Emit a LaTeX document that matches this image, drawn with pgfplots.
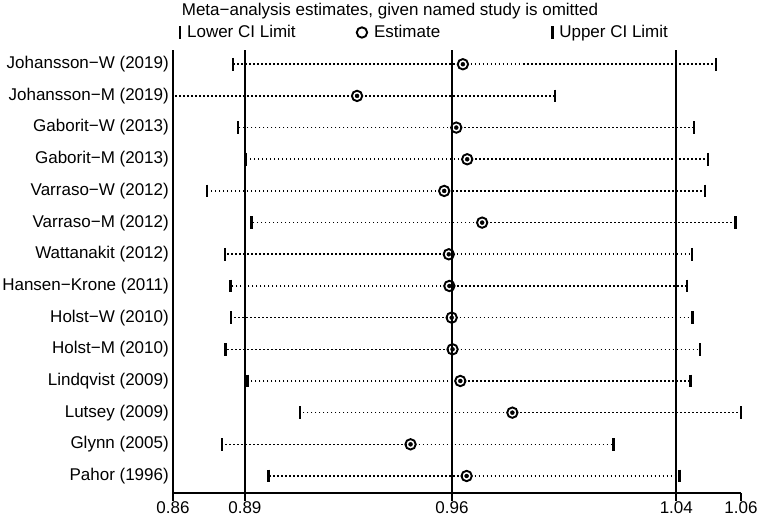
\documentclass[border=0pt]{standalone}
\usepackage{fontspec}
\setmainfont{Liberation Sans}
\usepackage{pgfplots}
\usepackage{pgfplotstable}
\pgfplotsset{compat=1.18}
% row position (14 = top), lower CI, estimate, upper CI
\pgfplotstableread{
row lo est hi
14 0.8838 0.9638 1.0518
13 0.8630 0.9270 0.9958
12 0.8856 0.9615 1.0441
11 0.8882 0.9653 1.0490
10 0.8748 0.9573 1.0480
9  0.8902 0.9705 1.0585
8  0.8811 0.9589 1.0435
7  0.8829 0.9591 1.0417
6  0.8831 0.9599 1.0437
5  0.8813 0.9602 1.0463
4  0.8889 0.9629 1.0429
3  0.9071 0.9810 1.0605
2  0.8801 0.9456 1.0161
1  0.8962 0.9651 1.0391
}\sens
\newcommand{\bigf}{\fontsize{17}{20}\selectfont}
\begin{document}
\begin{tikzpicture}
\begin{axis}[
  scale only axis, width=568pt, height=443pt,
  xmin=0.863, xmax=1.0605, ymin=0.463, ymax=14.45,
  axis lines=left,
  axis line style={-, line width=2pt, black},
  xtick={0.863,0.888,0.96,1.038,1.0605},
  xticklabels={0.86,0.89,0.96,1.04,1.06},
  ytick={1,...,14},
  yticklabels={Pahor (1996),Glynn (2005),Lutsey (2009),Lindqvist (2009),Holst−M (2010),Holst−W (2010),Hansen−Krone (2011),Wattanakit (2012),Varraso−M (2012),Varraso−W (2012),Gaborit−M (2013),Gaborit−W (2013),Johansson−M (2019),Johansson−W (2019)},
  tick align=outside, major tick length=8pt,
  x tick style={line width=2pt, black},
  y tick style={draw=none},
  tick label style={font=\bigf},
  xticklabel style={inner sep=0pt},
  yticklabel style={inner sep=0pt, anchor=east, xshift=4pt},
  title={Meta−analysis estimates, given named study is omitted},
  title style={at={(0.382,1.075)}, anchor=center, font=\bigf, inner sep=0pt},
  legend columns=3,
  legend style={draw=none, fill=none, at={(0.4437,1.0395)}, anchor=center, font=\bigf,
    /tikz/every odd column/.append style={column sep=5pt},
    /tikz/column 2/.style={column sep=59pt},
    /tikz/column 4/.style={column sep=110pt}},
  legend image code/.code={\draw[#1] plot coordinates {(0pt,0pt)};},
]
\addplot[forget plot, line width=2pt, black] coordinates {(0.888,0.463) (0.888,14.45)};
\addplot[forget plot, line width=2pt, black] coordinates {(0.96,0.463) (0.96,14.45)};
\addplot[forget plot, line width=2pt, black] coordinates {(1.038,0.463) (1.038,14.45)};
\addplot[forget plot, only marks, mark=none,
  error bars/.cd, x dir=both, x explicit, error mark=none,
  error bar style={black, line width=1.6pt, dash pattern=on 1.6pt off 2.4pt}]
  table[x=est, y=row, x error plus expr=\thisrow{hi}-\thisrow{est}, x error minus expr=\thisrow{est}-\thisrow{lo}] {\sens};
\addplot[only marks, mark=|, mark size=6.3pt, black, mark options={line width=2.6pt}] table[x=lo, y=row] {\sens};
\addlegendentry{Lower CI Limit}
\addplot[only marks, mark=o, mark size=5.2pt, black, mark options={line width=1.9pt}] table[x=est, y=row] {\sens};
\addlegendentry{Estimate}
\addplot[only marks, mark=|, mark size=6.3pt, black, mark options={line width=2.6pt}] table[x=hi, y=row] {\sens};
\addlegendentry{Upper CI Limit}
\end{axis}
\path (current axis.south west) ++(-173pt,-26pt) rectangle ++(767pt,519pt);
\end{tikzpicture}
\end{document}
